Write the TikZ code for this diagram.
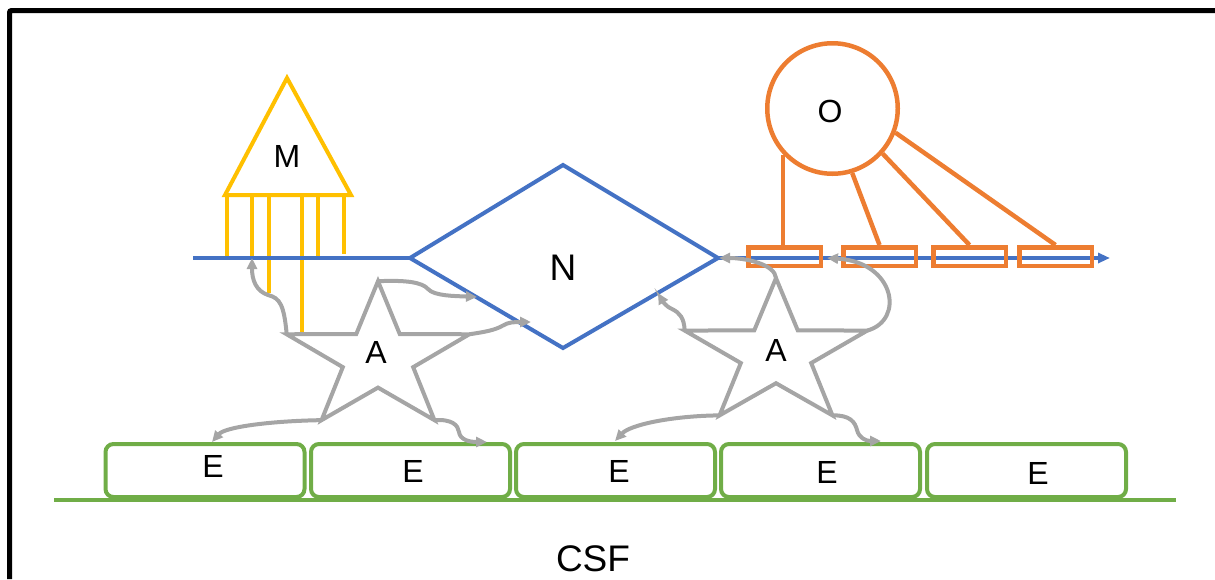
\documentclass[tikz,border=0pt]{standalone}
\usepackage{fontspec}
\setmainfont{Liberation Sans}
\usetikzlibrary{arrows.meta,calc}
\definecolor{nblue}{HTML}{4472C4}
\definecolor{oorange}{HTML}{ED7D31}
\definecolor{myell}{HTML}{FFC000}
\definecolor{agray}{HTML}{A5A5A5}
\definecolor{egreen}{HTML}{70AD47}

% five-pointed star, squashed vertically; names its outer (o) and inner (i) corners
\newcommand\astrostar[4]{%
  \begin{scope}[shift={(#2,#3)}]
    \begin{scope}[x=1pt,y=#4pt]
      \foreach \k in {0,...,4}{
        \coordinate (#1o\k) at ({90+72*\k}:96);
        \coordinate (#1i\k) at ({126+72*\k}:37);
      }
    \end{scope}
  \end{scope}
  \draw[astro] (#1o0)--(#1i0)--(#1o1)--(#1i1)--(#1o2)--(#1i2)--(#1o3)--(#1i3)--(#1o4)--(#1i4)--cycle;
}

\begin{document}
\begin{tikzpicture}[x=1pt,y=-1pt,
  lbl/.style={inner sep=0pt, font=\fontsize{32}{36}\selectfont},
  biglbl/.style={inner sep=0pt, font=\fontsize{37}{42}\selectfont},
  axon/.style={draw=nblue, line width=4pt},
  myelin/.style={draw=oorange, line width=4.5pt, minimum width=72.5pt, minimum height=18.5pt, inner sep=0pt},
  oline/.style={draw=oorange, line width=4.5pt},
  mline/.style={draw=myell, line width=4pt},
  astro/.style={draw=agray, line width=4pt, line join=miter},
  garrow/.style={draw=agray, line width=4pt, -{Triangle[length=11pt,width=10pt]}},
  ebox/.style={draw=egreen, line width=4pt, rounded corners=8pt, minimum width=199pt, minimum height=53pt, inner sep=0pt},
]
\useasboundingbox (0,0) rectangle (1215,579);

% frame
\draw[line width=5pt, rounded corners=2pt] (9.5,579) -- (9.5,10.5) -- (1215,10.5);

% ependymal lining
\node[ebox] (E1) at (205,470.5) {};
\node[ebox] (E2) at (410.5,470.5) {};
\node[ebox] (E3) at (615.5,470.5) {};
\node[ebox] (E4) at (820.5,470.5) {};
\node[ebox] (E5) at (1026.5,470.5) {};
\draw[draw=egreen, line width=4.5pt] (54,500) -- (1176,500);

% microglia
\coordinate (Mtop) at (287,78);
\coordinate (Mr) at (351,195);
\coordinate (Ml) at (225,195);
\foreach \x/\yend in {227/257, 252/258, 269/293, 302/333, 318/256, 344/254}
  \draw[mline] (\x,195) -- (\x,\yend);
\draw[mline] (Mtop) -- (Mr) -- (Ml) -- cycle;

% neuron and axon
\coordinate (Nw) at (410,258);
\coordinate (Nn) at (563,165);
\coordinate (Ne) at (718,258);
\coordinate (Ns) at (563,348);
\coordinate (axstart) at (193,258);
\coordinate (axend) at (1110,258);
\draw[axon] (axstart) -- (Nw);
\draw[axon] (Nw) -- (Nn) -- (Ne) -- (Ns) -- cycle;
\draw[axon, -{Triangle[length=12pt,width=10pt]}] (Ne) -- (axend);

% oligodendrocyte and myelin segments
\node[circle, draw=oorange, line width=4.5pt, minimum size=130.5pt, inner sep=0pt] (Ocell) at (832.5,108.5) {};
\node[myelin] (M1) at (784.5,256.5) {};
\node[myelin] (M2) at (879.5,256.5) {};
\node[myelin] (M3) at (969.5,256.5) {};
\node[myelin] (M4) at (1055.5,256.5) {};
\draw[oline] (Ocell.223) -- (Ocell.223 |- M1.north);
\draw[oline] (Ocell.287) -- (M2.north);
\draw[oline] (Ocell.318) -- (M3.north);
\draw[oline] (Ocell.339) -- (M4.north);

% astrocytes
\astrostar{A1}{378}{358}{0.8}
\astrostar{A2}{776}{354}{0.79}

% astrocyte processes
\coordinate (t1) at (252,258);
\coordinate (t2) at (477,297);
\coordinate (t3) at (531,322);
\coordinate (t4) at (212,442);
\coordinate (t5) at (487,442);
\coordinate (t6) at (658,293);
\coordinate (t7) at (719,258);
\coordinate (t8) at (827,258);
\coordinate (t9) at (615,441);
\coordinate (t10) at (881,441);
\draw[garrow] (A1o1) .. controls (284,305) and (280,298) .. (268,295) .. controls (256,291) and (252,280) .. (t1);
\draw[garrow] (A1o0) .. controls (405,280) and (422,282) .. (428,289) .. controls (434,296) and (455,296) .. (t2);
\draw[garrow] (A1o4) .. controls (485,332) and (495,330) .. (502,326) .. controls (508,322) and (515,322) .. (t3);
\draw[garrow] (A1o2) .. controls (270,421) and (225,427) .. (t4);
\draw[garrow] (A1o3) .. controls (452,419) and (458,425) .. (459,432) .. controls (460,440) and (470,442) .. (t5);
\draw[garrow] (A2o1) .. controls (684,318) and (680,313) .. (672,309) .. controls (665,306) and (662,300) .. (t6);
\draw[garrow] (A2o0) .. controls (775,264) and (745,258) .. (t7);
\draw[garrow] (A2o4) .. controls (905,320) and (895,262) .. (t8);
\draw[garrow] (A2o2) .. controls (670,416) and (630,425) .. (t9);
\draw[garrow] (A2o3) .. controls (850,415) and (855,422) .. (857,430) .. controls (859,438) and (866,441) .. (t10);

% labels
\node[lbl] (Mt) at (287,156) {M};
\node[biglbl] (Nt) at (563,268) {N};
\node[lbl] (Ot) at (830,111) {O};
\node[lbl] (A1t) at (376,352) {A};
\node[lbl] (A2t) at (776,350) {A};
\node[lbl] (E1t) at (213,466) {E};
\node[lbl] (E2t) at (413,471) {E};
\node[lbl] (E3t) at (619,471) {E};
\node[lbl] (E4t) at (827,472) {E};
\node[lbl] (E5t) at (1038,473) {E};
\node[biglbl] (csf) at (593,559) {CSF};
\end{tikzpicture}
\end{document}
